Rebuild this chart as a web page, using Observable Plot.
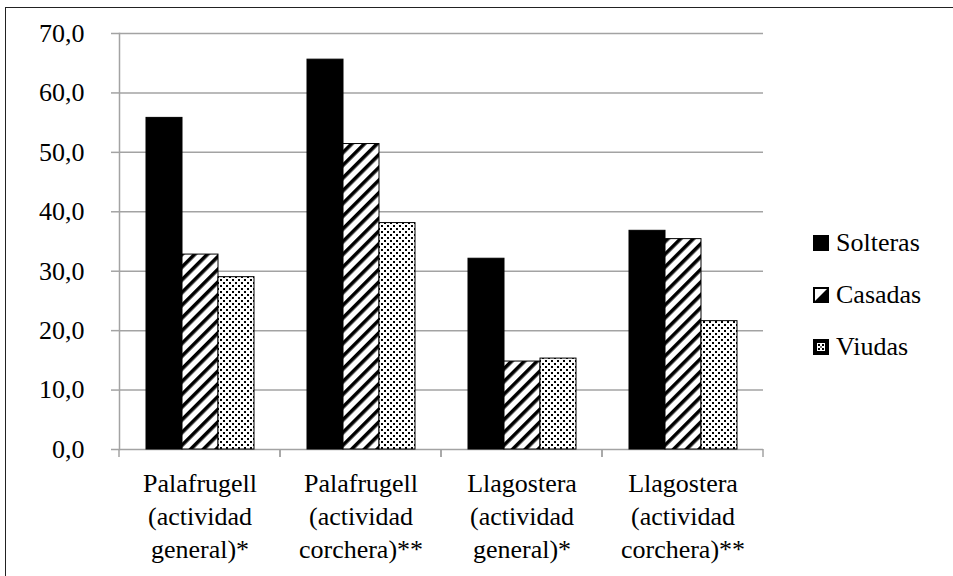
<!DOCTYPE html>
<html>
<head>
<meta charset="utf-8">
<script src="https://cdn.jsdelivr.net/npm/d3@7"></script>
<script src="https://cdn.jsdelivr.net/npm/@observablehq/plot@0.6"></script>
<style>
  html, body { margin: 0; padding: 0; background: #fff; }
  #wrap { position: relative; width: 953px; height: 576px; overflow: hidden; }
  #frameBorder { position: absolute; left: 5px; top: 7px; width: 1000px; height: 1000px; border: 1px solid #222; box-sizing: border-box; }
  #plotHolder { position: absolute; left: 0; top: 0; }
  #key { position: absolute; left: 813px; top: 217px; font-size: 26px; color: #000; }
  .row { display: flex; align-items: center; height: 52px; }
  .row svg { margin-right: 7px; }
</style>
</head>
<body>
<div id="wrap">
  <div id="frameBorder"></div>
  <div id="plotHolder"></div>
  <div id="key"></div>
</div>
<script>
const categories = [
  "Palafrugell (actividad general)*",
  "Palafrugell (actividad corchera)**",
  "Llagostera (actividad general)*",
  "Llagostera (actividad corchera)**"
];
const series = ["Solteras", "Casadas", "Viudas"];
const solteras = [55.8, 65.6, 32.1, 36.8];
const casadas  = [32.8, 51.4, 14.8, 35.4];
const viudas   = [29.0, 38.1, 15.3, 21.6];
const yTicks = [0, 10, 20, 30, 40, 50, 60, 70];
const fills = ["#000", "url(#diag)", "url(#dots)"];

const valuesBySeries = [solteras, casadas, viudas];
const data = [];
categories.forEach((c, i) => {
  series.forEach((s, k) => data.push({category: c, series: s, value: valuesBySeries[k][i]}));
});

const serif = "'Liberation Serif', 'Times New Roman', Times, serif";
const gray = "#a3a3a3";
const fmt = v => v.toFixed(1).replace(".", ",");

const boundaryTicks = (index, scales) => {
  const g = d3.create("svg:g");
  const [x0, x1] = scales.x.range();
  const y0 = scales.y(0);
  for (const xx of [x0, x1]) {
    g.append("line")
      .attr("x1", xx).attr("x2", xx)
      .attr("y1", y0).attr("y2", y0 + 8)
      .attr("stroke", gray).attr("stroke-width", 1.5);
  }
  return g.node();
};

const chart = Plot.plot({
  width: 953,
  height: 576,
  marginLeft: 118,
  marginRight: 189,
  marginTop: 33,
  marginBottom: 127,
  style: {fontFamily: serif, fontSize: "26px", color: "#000", background: "transparent"},
  fx: {domain: categories, padding: 0, label: null},
  x: {domain: series, paddingInner: 0, paddingOuter: 0.68, axis: null},
  y: {domain: [0, 70], ticks: yTicks, label: null},
  color: {domain: series, range: fills},
  marks: [
    Plot.gridY(yTicks, {stroke: gray, strokeOpacity: 1, strokeWidth: 1.5}),
    Plot.frame({anchor: "left", facetAnchor: "left", stroke: gray, strokeWidth: 1.5}),
    Plot.axisY(yTicks, {anchor: "left", tickSize: 8, tickPadding: 27, stroke: gray, strokeWidth: 1.5, fill: "#000", tickFormat: fmt, fontSize: 26, fontFamily: serif, label: null}),
    Plot.axisFx({anchor: "bottom", tickSize: 0, tickPadding: 19, lineHeight: 1.27, fontSize: 26, fontFamily: serif, fill: "#000", label: null,
      tickFormat: d => d.split(" ").join("\n")}),
    Plot.barY(data, {fx: "category", x: "series", y: "value", fill: "series", stroke: "#000", strokeWidth: 1}),
    boundaryTicks
  ]
});

// pattern definitions inside the chart's own SVG
const defs = d3.select(chart).insert("defs", ":first-child");
const diag = defs.append("pattern").attr("id", "diag").attr("patternUnits", "userSpaceOnUse")
  .attr("width", 9).attr("height", 9).attr("patternTransform", "rotate(45)");
diag.append("rect").attr("width", 9).attr("height", 9).attr("fill", "#fff");
diag.append("rect").attr("width", 3.6).attr("height", 9).attr("fill", "#000");
const dots = defs.append("pattern").attr("id", "dots").attr("patternUnits", "userSpaceOnUse")
  .attr("width", 6).attr("height", 6);
dots.append("rect").attr("width", 6).attr("height", 6).attr("fill", "#fff");
dots.append("rect").attr("x", 0).attr("y", 0).attr("width", 2).attr("height", 2).attr("fill", "#000");
dots.append("rect").attr("x", 3).attr("y", 3).attr("width", 2).attr("height", 2).attr("fill", "#000");

d3.select(chart).selectAll("text, tspan").style("font-family", serif);
document.getElementById("plotHolder").appendChild(chart);

// Legend
const key = d3.select("#key");
series.forEach((s, k) => {
  const row = key.append("div").attr("class", "row");
  const sw = row.append("svg").attr("width", 16).attr("height", 16);
  if (k === 0) {
    sw.append("rect").attr("x", 0.5).attr("y", 0.5).attr("width", 15).attr("height", 15).attr("fill", "#000").attr("stroke", "#000");
  } else if (k === 1) {
    sw.append("rect").attr("x", 1).attr("y", 1).attr("width", 14).attr("height", 14).attr("fill", "#fff").attr("stroke", "#000").attr("stroke-width", 2);
    sw.append("path").attr("d", "M15,1 L15,15 L1,15 Z").attr("fill", "#000");
  } else {
    sw.append("rect").attr("x", 1).attr("y", 1).attr("width", 14).attr("height", 14).attr("fill", "#000").attr("stroke", "#000").attr("stroke-width", 2);
    sw.append("rect").attr("x", 4).attr("y", 4).attr("width", 8).attr("height", 8).attr("fill", "#fff");
    sw.append("rect").attr("x", 5).attr("y", 5).attr("width", 2).attr("height", 2).attr("fill", "#000");
    sw.append("rect").attr("x", 9).attr("y", 5).attr("width", 2).attr("height", 2).attr("fill", "#000");
    sw.append("rect").attr("x", 7).attr("y", 7.5).attr("width", 2).attr("height", 1).attr("fill", "#000");
    sw.append("rect").attr("x", 5).attr("y", 9).attr("width", 2).attr("height", 2).attr("fill", "#000");
    sw.append("rect").attr("x", 9).attr("y", 9).attr("width", 2).attr("height", 2).attr("fill", "#000");
  }
  row.append("span").style("font-family", serif).style("font-size", "26px").text(s);
});
</script>
</body>
</html>
